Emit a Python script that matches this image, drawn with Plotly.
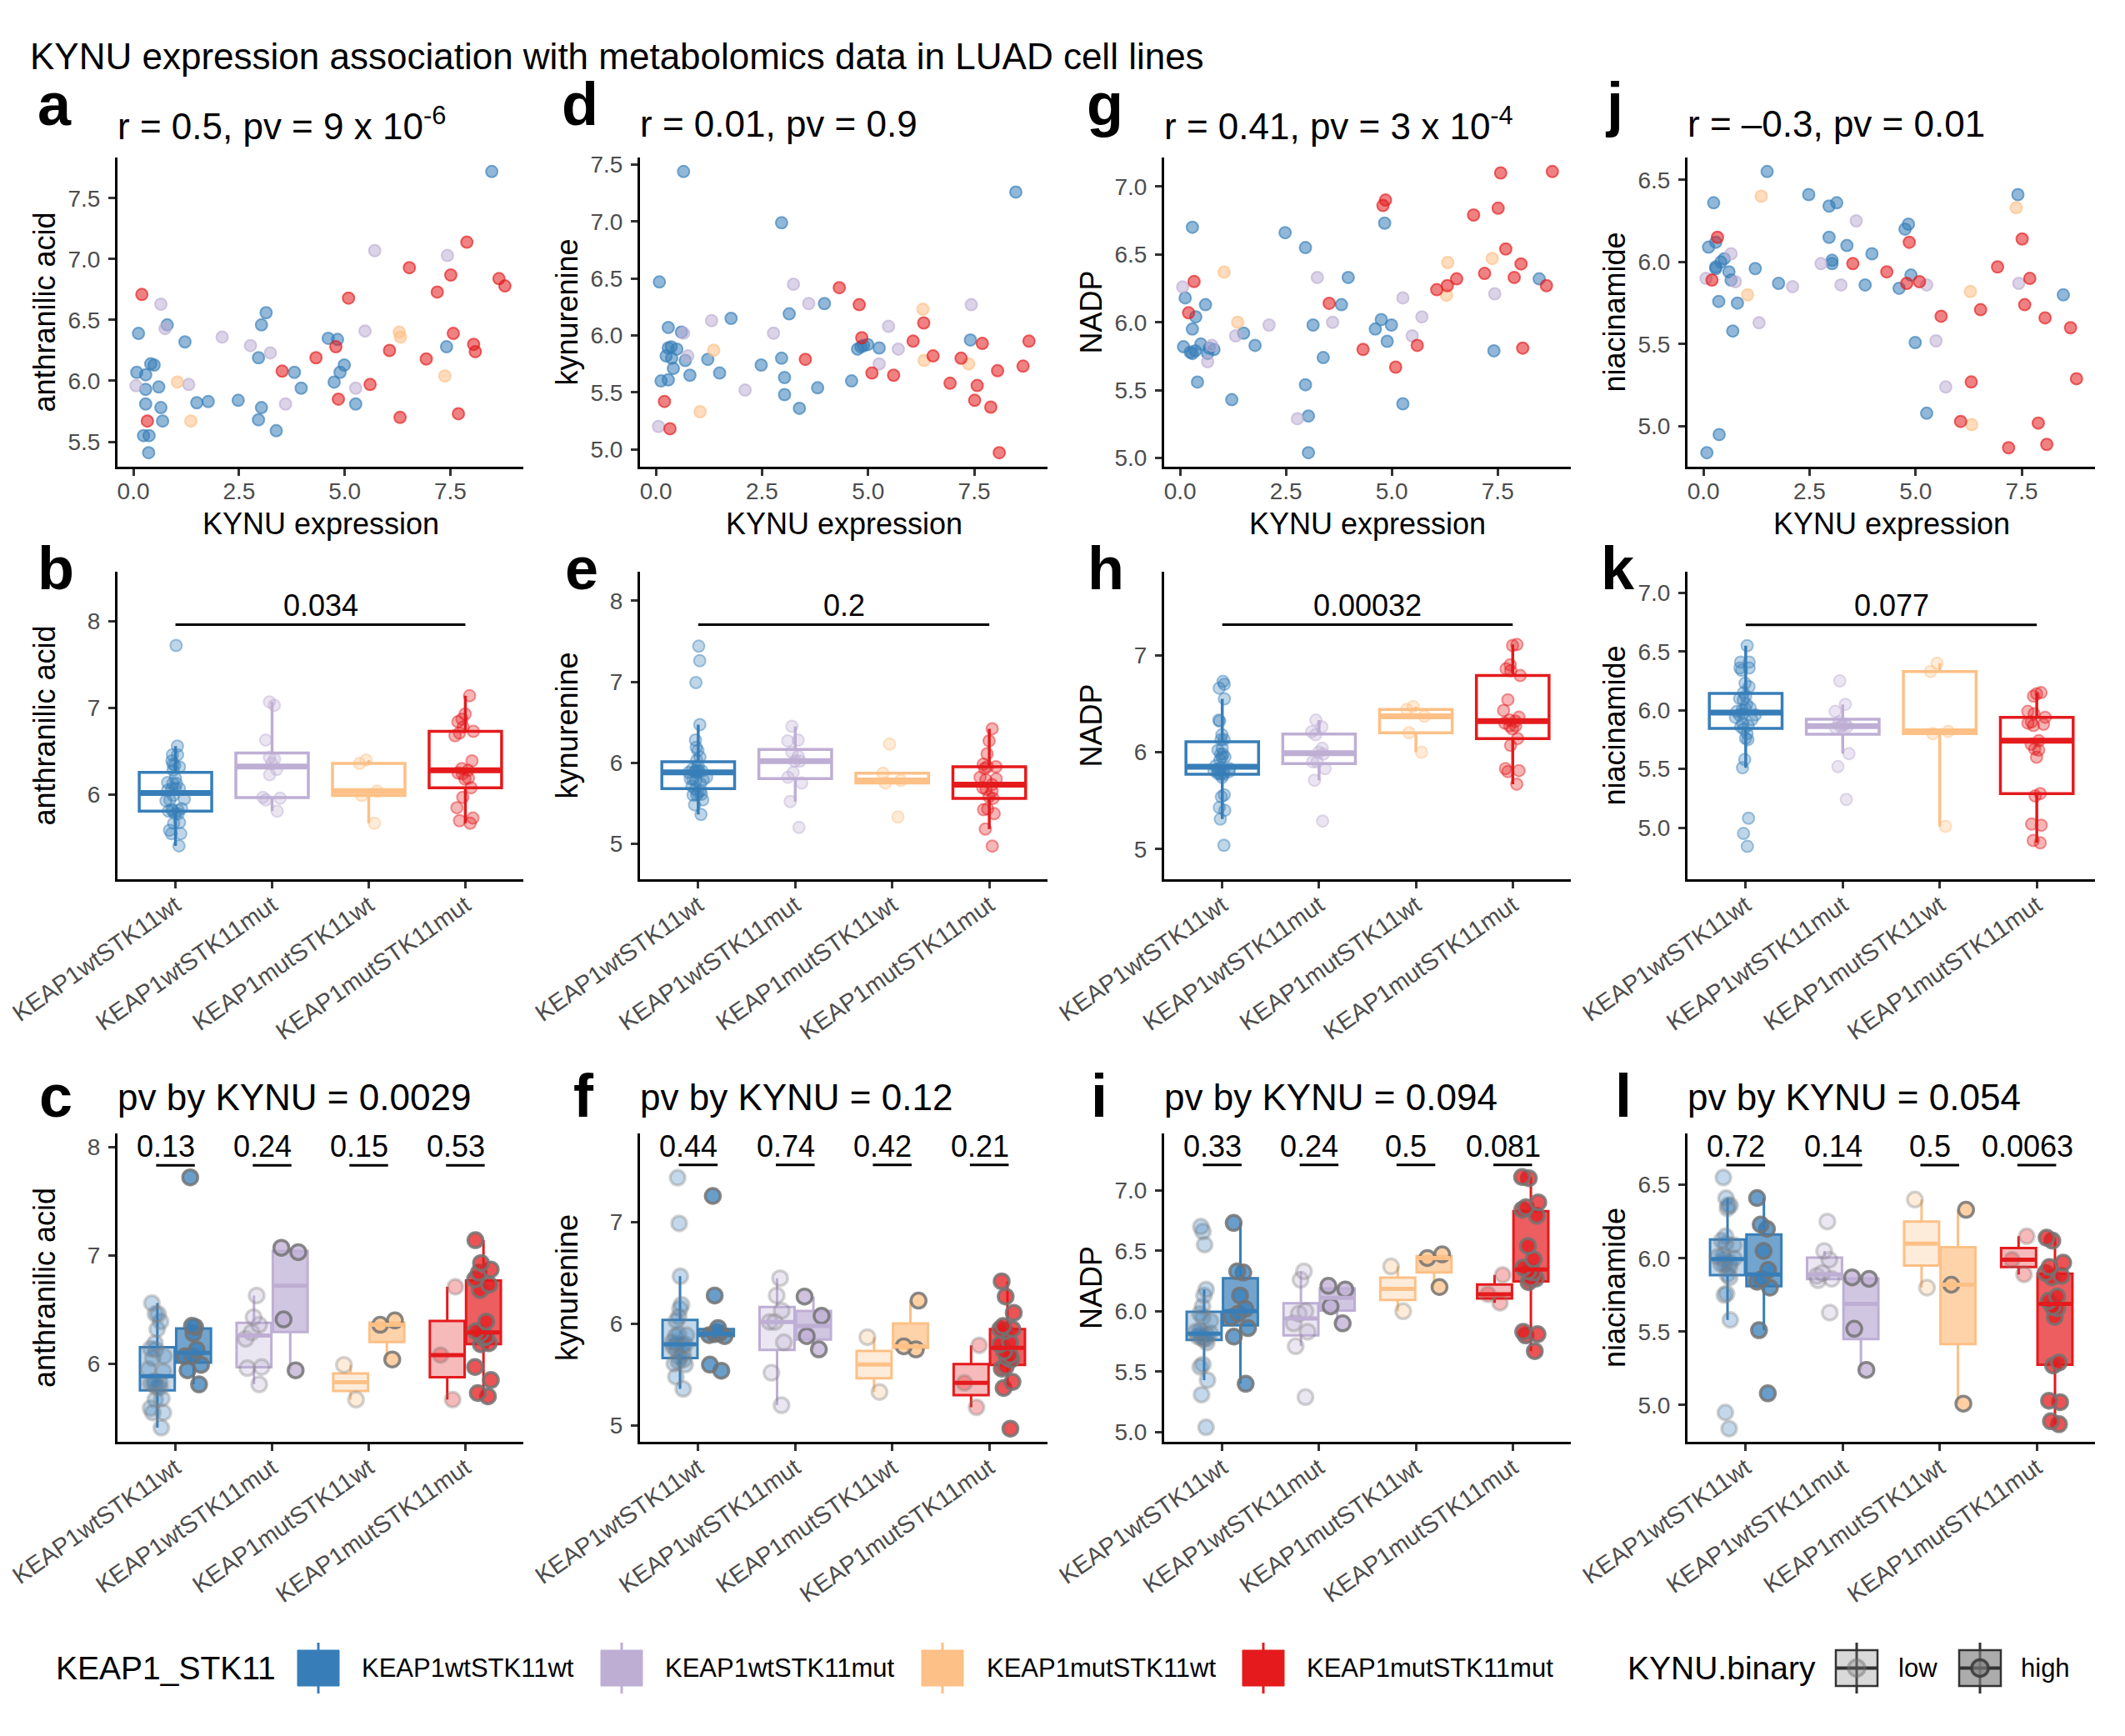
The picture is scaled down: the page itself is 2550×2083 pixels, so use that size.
import numpy as np
import plotly.graph_objects as go

W, H = 2550, 2083
OFF = 8   # page margin around the figure in the browser
FONT = "Liberation Sans, Arial, Helvetica, sans-serif"

GROUPS = ["KEAP1wtSTK11wt", "KEAP1wtSTK11mut", "KEAP1mutSTK11wt", "KEAP1mutSTK11mut"]
GROUP_COLORS = ["#377EB8", "#BEAED4", "#FDC086", "#E41A1C"]
GROUP_SIZES = [34, 12, 5, 21]   # cell lines per group, data below is in this order

# KYNU expression per cell line
kynu = [
    8.48, 0.12, 0.08, 0.29, 0.29, 0.29, 0.41, 0.49, 0.60, 0.65, 0.69, 0.24, 0.37, 0.36, 0.80, 1.22, 1.50,
    1.77, 2.48, 2.96, 3.03, 3.14, 3.03, 2.96, 3.38, 3.81, 3.97, 4.61, 4.83, 4.75, 4.89, 4.99, 5.26, 7.41,
    0.65, 0.75, 0.06, 1.31, 2.10, 2.77, 3.24, 3.60, 5.26, 5.48, 5.71, 7.43,
    1.04, 1.36, 6.29, 6.32, 7.37,
    0.20, 0.33, 3.52, 4.32, 4.79, 4.85, 5.09, 5.60, 6.06, 6.31, 6.53, 6.93, 7.19, 7.51, 7.57, 7.69, 7.89,
    8.05, 8.09, 8.65, 8.79,
]

anthranilic_acid = [
    7.72, 6.39, 6.07, 6.05, 5.93, 5.81, 6.14, 6.13, 5.95, 5.78, 5.67, 5.55, 5.55, 5.41, 6.46, 6.32, 5.82,
    5.83, 5.84, 6.19, 6.46, 6.56, 5.78, 5.68, 5.59, 6.07, 5.94, 6.35, 6.34, 5.99, 6.07, 6.13, 5.81, 6.28,
    6.63, 6.43, 5.96, 5.97, 6.36, 6.29, 6.23, 5.81, 5.94, 6.41, 7.07, 7.03,
    5.99, 5.67, 6.40, 6.36, 6.04,
    6.71, 5.67, 6.08, 6.19, 6.28, 5.85, 6.68, 5.97, 6.25, 5.70, 6.93, 6.18, 6.73, 6.87, 6.39, 5.73, 7.14,
    6.30, 6.24, 6.84, 6.78,
]

kynurenine = [
    7.26, 5.60, 6.47, 6.07, 5.61, 5.89, 5.71, 5.88, 6.03, 7.44, 5.78, 5.82, 5.80, 5.90, 5.65, 5.79, 5.67,
    6.15, 5.74, 6.99, 5.63, 6.19, 5.48, 5.80, 5.36, 5.54, 6.28, 5.60, 5.90, 5.88, 5.91, 5.92, 5.89, 5.96,
    6.02, 5.82, 5.20, 6.13, 5.52, 6.02, 6.45, 6.28, 5.75, 6.08, 5.88, 6.27,
    5.33, 5.87, 6.23, 5.78, 5.75,
    5.42, 5.18, 5.79, 6.42, 6.27, 5.98, 5.67, 5.65, 5.95, 6.11, 5.82, 5.58, 5.80, 5.43, 5.56, 5.93, 5.37,
    5.69, 4.97, 5.73, 5.95,
]

nadp = [
    6.32, 6.18, 5.82, 6.70, 5.95, 5.77, 5.56, 5.84, 6.13, 5.77, 5.81, 5.78, 6.04, 5.79, 5.80, 5.43, 5.92,
    5.83, 6.66, 6.55, 5.31, 5.98, 5.04, 5.54, 5.74, 6.13, 6.33, 5.95, 6.73, 6.02, 5.86, 5.98, 5.40, 5.79,
    5.71, 5.83, 6.26, 5.90, 5.98, 5.29, 6.33, 6.00, 6.18, 5.90, 6.04, 6.21,
    6.37, 6.00, 6.20, 6.44, 6.47,
    6.07, 6.30, 6.14, 5.80, 6.86, 6.90, 5.67, 5.83, 6.24, 6.27, 6.32, 6.79, 6.36, 6.84, 7.10, 6.54, 6.33,
    6.43, 5.81, 6.27, 7.11,
]

niacinamide = [
    5.80, 6.09, 4.84, 6.12, 5.97, 5.96, 6.00, 6.02, 5.94, 5.89, 5.58, 6.36, 4.95, 5.76, 5.75, 5.96, 6.55,
    5.87, 6.41, 6.34, 6.01, 6.36, 5.99, 6.15, 6.10, 5.86, 6.05, 5.84, 6.23, 6.20, 5.92, 5.51, 5.08, 6.41,
    6.05, 5.88, 5.90, 5.63, 5.85, 5.99, 5.86, 6.25, 5.86, 5.52, 5.24, 5.87,
    5.80, 6.40, 5.82, 5.01, 6.33,
    5.89, 6.15, 5.99, 5.94, 5.87, 6.12, 5.88, 5.67, 5.03, 5.27, 5.71, 5.97, 4.87, 6.14, 5.74, 5.90, 5.02,
    5.66, 4.89, 5.60, 5.29,
]

KYNU_CUT = 3.7   # KYNU.binary: "high" above this

metabolite_names = ["anthranilic acid", "kynurenine", "NADP", "niacinamide"]
metabolite_values = [anthranilic_acid, kynurenine, nadp, niacinamide]

panel_letters = [["a", "d", "g", "j"], ["b", "e", "h", "k"], ["c", "f", "i", "l"]]
cor_titles = ["r = 0.5, pv = 9 x 10<sup>-6</sup>", "r = 0.01, pv = 0.9",
              "r = 0.41, pv = 3 x 10<sup>-4</sup>", "r = \u20130.3, pv = 0.01"]
group_pvals = ["0.034", "0.2", "0.00032", "0.077"]
kynu_pvals = ["0.0029", "0.12", "0.094", "0.054"]
binary_pvals = [["0.13", "0.24", "0.15", "0.53"],
                ["0.44", "0.74", "0.42", "0.21"],
                ["0.33", "0.24", "0.5", "0.081"],
                ["0.72", "0.14", "0.5", "0.0063"]]

# axis ranges of the box rows (as drawn in the original)
box_ranges = [[5.025, 8.57], [4.56, 8.36], [4.69, 7.86], [4.56, 7.18]]
box_dticks = [1, 1, 1, 0.5]
bracket_y = [7.96, 7.705, 7.314, 6.728]
kynu_ranges = [[5.28, 8.125], [4.84, 7.875], [4.92, 7.47], [4.75, 6.85]]
kynu_dticks = [1, 1, 0.5, 0.5]
bar_y = [7.83, 7.565, 7.21, 6.635]

# layout in pixels
COLS = [(141, 628), (768, 1257), (1397, 1885), (2025, 2514)]
ROWS = [(189, 560), (686, 1055), (1360, 1730)]


def rgba(hex_color, a):
    h = hex_color.lstrip("#")
    return "rgba(%d,%d,%d,%s)" % (int(h[0:2], 16), int(h[2:4], 16), int(h[4:6], 16), a)


def px(x):
    return (x - OFF) / W


def py(y):
    return 1 - (y - OFF) / H


def split(arr):
    b = np.cumsum([0] + GROUP_SIZES)
    return [np.asarray(arr[b[i]:b[i + 1]], dtype=float) for i in range(4)]


def box_stats(v):
    q1, med, q3 = np.percentile(v, [25, 50, 75])
    iqr = q3 - q1
    lo = v[v >= q1 - 1.5 * iqr].min()
    hi = v[v <= q3 + 1.5 * iqr].max()
    return q1, med, q3, lo, hi


def ax_ids(r, c):
    k = r * 4 + c + 1
    s = "" if k == 1 else str(k)
    return "x" + s, "y" + s, "xaxis" + s, "yaxis" + s


fig = go.Figure()
annotations = []
shapes = []

tick_font = dict(family=FONT, size=28, color="#4D4D4D")
axis_base = dict(showline=True, linecolor="black", linewidth=3, ticks="outside", ticklen=8,
                 tickwidth=3, tickcolor="#333333", showgrid=False, zeroline=False,
                 tickfont=tick_font, fixedrange=True, automargin=False, ticklabeloverflow="allow")

kynu_g = split(kynu)
kx = np.asarray(kynu)
kpad = 0.05 * (kx.max() - kx.min())
x_range = [kx.min() - kpad, kx.max() + kpad]


def add_box(v, pos, width, color, xa, ya, fill, lw, med_w):
    q1, med, q3, lo, hi = box_stats(v)
    fig.add_trace(go.Box(x=[pos], q1=[q1], median=[med], q3=[q3], lowerfence=[lo], upperfence=[hi],
                         width=width, whiskerwidth=0, fillcolor=fill, line=dict(color=color, width=lw),
                         boxpoints=False, xaxis=xa, yaxis=ya, showlegend=False, hoverinfo="skip"))
    half = width / 2 - 0.012
    fig.add_trace(go.Scatter(x=[pos - half, pos + half], y=[med, med], mode="lines",
                             line=dict(color=color, width=med_w), xaxis=xa, yaxis=ya,
                             showlegend=False, hoverinfo="skip"))


def add_points(v, pos, width, jitter, marker, xa, ya):
    fig.add_trace(go.Box(x=[pos] * len(v), y=v, boxpoints="all", jitter=jitter, pointpos=0, width=width,
                         fillcolor="rgba(0,0,0,0)", line=dict(width=0, color="rgba(0,0,0,0)"),
                         whiskerwidth=0, marker=marker, xaxis=xa, yaxis=ya, showlegend=False))


layout_axes = {}
for c in range(4):
    vals = np.asarray(metabolite_values[c], dtype=float)
    met_g = split(vals)

    # ---- row 1: scatter against KYNU expression
    xa, ya, xk, yk = ax_ids(0, c)
    for gi in range(4):
        col = GROUP_COLORS[gi]
        fig.add_trace(go.Scatter(x=kynu_g[gi], y=met_g[gi], mode="markers", xaxis=xa, yaxis=ya,
                                 showlegend=False,
                                 marker=dict(size=14, color=rgba(col, 0.55),
                                             line=dict(color=rgba(col, 0.65), width=2))))
    pad = 0.05 * (vals.max() - vals.min())
    layout_axes[xk] = dict(axis_base, domain=[px(COLS[c][0]), px(COLS[c][1])], anchor=ya,
                           range=x_range, tickvals=[0, 2.5, 5, 7.5], tickformat=".1f",
                           ticklabelstandoff=-6)
    layout_axes[yk] = dict(axis_base, domain=[py(ROWS[0][1]), py(ROWS[0][0])], anchor=xa,
                           range=[vals.min() - pad, vals.max() + pad], tick0=0, dtick=0.5,
                           tickformat=".1f", ticklabelstandoff=4)

    # ---- row 2: by KEAP1/STK11 group
    xa, ya, xk, yk = ax_ids(1, c)
    for gi in range(4):
        col = GROUP_COLORS[gi]
        add_box(met_g[gi], gi + 1, 0.75, col, xa, ya, "rgba(255,255,255,0)", 3.5, 7)
        add_points(met_g[gi], gi + 1, 0.75, 0.3,
                   dict(size=14, color=rgba(col, 0.32), line=dict(color=rgba(col, 0.45), width=2)), xa, ya)
    shapes.append(dict(type="line", xref=xa, yref=ya, x0=1, x1=4, y0=bracket_y[c], y1=bracket_y[c],
                       line=dict(color="black", width=3)))
    annotations.append(dict(text=group_pvals[c], xref=xa, yref=ya, x=2.5, y=bracket_y[c], xanchor="center",
                            yanchor="bottom", showarrow=False, yshift=1,
                            font=dict(family=FONT, size=36, color="black")))
    # ---- row 3: by group and KYNU.binary
    xa3, ya3, xk3, yk3 = ax_ids(2, c)
    for gi in range(4):
        col = GROUP_COLORS[gi]
        high = kynu_g[gi] > KYNU_CUT
        for mask, sign, box_a, pt_a, edge in ((~high, -1, 0.3, 0.3, "rgba(128,128,128,0.35)"),
                                              (high, 1, 0.7, 0.75, "rgba(115,115,115,0.85)")):
            v = met_g[gi][mask]
            pos = gi + 1 + sign * 0.1875
            add_box(v, pos, 0.36, col, xa3, ya3, rgba(col, box_a), 3, 5)
            add_points(v, pos, 0.36, 0.6,
                       dict(size=18, color=rgba(col, pt_a), line=dict(color=edge, width=3.5)), xa3, ya3)
        shapes.append(dict(type="line", xref=xa3, yref=ya3, x0=gi + 0.8, x1=gi + 1.2, y0=bar_y[c],
                           y1=bar_y[c], line=dict(color="black", width=3)))
        annotations.append(dict(text=binary_pvals[c][gi], xref=xa3, yref=ya3, x=gi + 0.9, y=bar_y[c],
                                xanchor="center", yanchor="bottom", showarrow=False, yshift=0,
                                font=dict(family=FONT, size=36, color="black")))

    cat_x = dict(axis_base, range=[0.4, 4.6], tickvals=[1, 2, 3, 4], ticktext=GROUPS, tickangle=-35,
                 tickfont=dict(family=FONT, size=29, color="#4D4D4D"), ticklabelstandoff=-8)
    layout_axes[xk] = dict(cat_x, domain=[px(COLS[c][0]), px(COLS[c][1])], anchor=ya)
    layout_axes[yk] = dict(axis_base, domain=[py(ROWS[1][1]), py(ROWS[1][0])], anchor=xa,
                           range=box_ranges[c], tick0=0, dtick=box_dticks[c],
                           tickformat=".1f" if box_dticks[c] < 1 else ".0f", ticklabelstandoff=4)
    layout_axes[xk3] = dict(cat_x, domain=[px(COLS[c][0]), px(COLS[c][1])], anchor=ya3)
    layout_axes[yk3] = dict(axis_base, domain=[py(ROWS[2][1]), py(ROWS[2][0])], anchor=xa3,
                            range=kynu_ranges[c], tick0=0, dtick=kynu_dticks[c],
                            tickformat=".1f" if kynu_dticks[c] < 1 else ".0f", ticklabelstandoff=4)


def text_at(text, x, y_baseline, size, xanchor="left", bold=False, color="black"):
    # y given as text baseline in pixels
    annotations.append(dict(text=("<b>%s</b>" % text) if bold else text, xref="paper", yref="paper",
                            x=px(x), y=py(y_baseline - 0.3465 * size), xanchor=xanchor, yanchor="middle",
                            showarrow=False, font=dict(family=FONT, size=size, color=color)))


# main title
text_at("KYNU expression association with metabolomics data in LUAD cell lines", 34, 83, 44)

letter_centers = [[65.5, 696, 1326, 1936.5], [66.5, 697.5, 1327, 1941.5], [66.5, 700, 1318.5, 1947.5]]
letter_baselines = [150, 707, 1340]
for r in range(3):
    for c in range(4):
        text_at(panel_letters[r][c], letter_centers[r][c], letter_baselines[r], 72, xanchor="center", bold=True)

for c in range(4):
    left, right = COLS[c]
    text_at(cor_titles[c], left - 2, 164, 44)
    text_at("pv by KYNU = " + kynu_pvals[c], left - 2, 1332, 44)
    # x title of the scatter row
    text_at("KYNU expression", (left + right) / 2, 641, 36, xanchor="center")
    # y titles
    for r in range(3):
        top, bottom = ROWS[r]
        annotations.append(dict(text=metabolite_names[c], xref="paper", yref="paper", x=px(left - 88),
                                y=py((top + bottom) / 2), xanchor="center", yanchor="middle", textangle=-90,
                                showarrow=False, font=dict(family=FONT, size=36, color="black")))

# legend (drawn as keys + labels along the bottom)
LEG_TOP, LEG_BOT = 1980, 2023
LEG_MID = (LEG_TOP + LEG_BOT) / 2
text_at("KEAP1_STK11", 65, LEG_MID + 13.5, 39)
key_lefts = [357, 721, 1106, 1491]
label_lefts = [432, 796, 1182, 1566]
for gi in range(4):
    col = GROUP_COLORS[gi]
    x0 = key_lefts[gi]
    xm = x0 + 25
    shapes.append(dict(type="line", xref="paper", yref="paper", x0=px(xm), x1=px(xm), y0=py(LEG_TOP - 9),
                       y1=py(LEG_BOT + 9), line=dict(color=col, width=3)))
    shapes.append(dict(type="rect", xref="paper", yref="paper", x0=px(x0), x1=px(x0 + 50), y0=py(LEG_BOT),
                       y1=py(LEG_TOP), fillcolor=col, line=dict(color=col, width=1)))
    text_at(GROUPS[gi], label_lefts[gi], LEG_MID + 11, 31)

text_at("KYNU.binary", 1951, LEG_MID + 13.5, 39)
for x0, lab, lab_x, fill_a, ring in ((2203, "low", 2276, 0.3, "rgba(110,110,110,0.45)"),
                                     (2351, "high", 2423, 0.65, "rgba(60,60,60,0.9)")):
    xm = x0 + 25
    shapes.append(dict(type="line", xref="paper", yref="paper", x0=px(xm), x1=px(xm), y0=py(LEG_TOP - 9),
                       y1=py(LEG_BOT + 9), line=dict(color="#333333", width=3)))
    shapes.append(dict(type="rect", xref="paper", yref="paper", x0=px(x0), x1=px(x0 + 50), y0=py(LEG_BOT),
                       y1=py(LEG_TOP), fillcolor="rgba(128,128,128,%s)" % fill_a,
                       line=dict(color="#333333", width=2.5)))
    shapes.append(dict(type="line", xref="paper", yref="paper", x0=px(x0), x1=px(x0 + 50), y0=py(LEG_MID),
                       y1=py(LEG_MID), line=dict(color="#333333", width=4)))
    shapes.append(dict(type="circle", xref="paper", yref="paper", x0=px(xm - 10), x1=px(xm + 10),
                       y0=py(LEG_MID + 10), y1=py(LEG_MID - 10), fillcolor="rgba(128,128,128,%s)" % fill_a,
                       line=dict(color=ring, width=3.5)))
    text_at(lab, lab_x, LEG_MID + 11, 31)

fig.update_layout(
    width=W, height=H,
    margin=dict(l=0, r=0, t=0, b=0, autoexpand=False),
    paper_bgcolor="white", plot_bgcolor="white",
    showlegend=False, boxmode="overlay",
    font=dict(family=FONT, size=28, color="black"),
    annotations=annotations, shapes=shapes,
    **layout_axes,
)

fig.write_html("out.html")
